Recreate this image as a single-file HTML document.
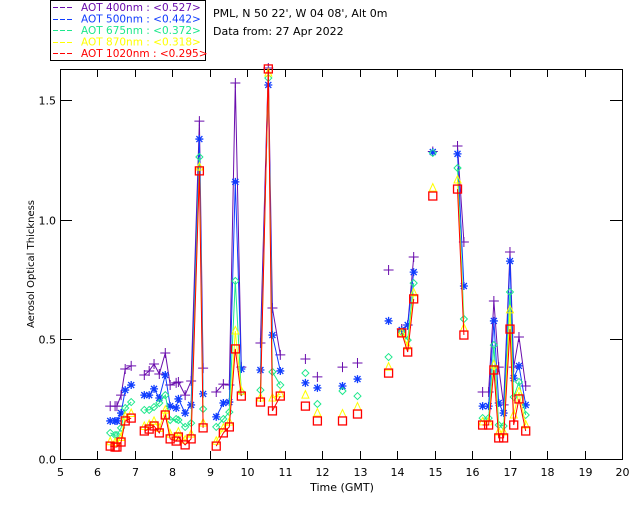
<!DOCTYPE html>
<html><head><meta charset="utf-8">
<style>
html,body{margin:0;padding:0;background:#fff;}
svg{display:block;font-family:"DejaVu Sans","Liberation Sans",sans-serif;}
</style></head>
<body>
<svg id="chart" width="640" height="512" viewBox="0 0 640 512" xmlns="http://www.w3.org/2000/svg">
<rect x="0" y="0" width="640" height="512" fill="#fff"/>
<g id="legend">
<rect x="50.5" y="0.5" width="155" height="60" fill="#fff" stroke="#000"/>
</g>
<text x="213" y="17" font-size="11" fill="#000">PML, N 50 22', W 04 08', Alt 0m</text>
<text x="213" y="35" font-size="11" fill="#000">Data from: 27 Apr 2022</text>
<g id="plot"></g>
</svg>
<script>
const times = [6.34,6.47,6.52,6.63,6.74,6.90,
 7.25,7.38,7.51,7.65,7.81,7.94,8.10,8.16,8.34,8.50,8.72,8.82,
 9.17,9.36,9.52,9.68,9.84,
 10.35,10.56,10.67,10.88,
 11.55,11.87,12.54,12.94,13.77,
 14.12,14.28,14.44,
 14.95,
 15.61,15.78,
 16.28,16.44,16.58,16.71,16.84,17.01,17.11,17.25,17.43];
const segments = [1,1,1,1,1,1, 2,2,2,2,2,2,2,2,2,2,2,2, 3,3,3,3,3, 4,4,4,4, 5,6,7,8,9, 10,10,10, 11, 12,12, 13,13,13,13,13,13,13,13,13];
const aot400 = [.221,.221,.221,.267,.376,.389, .351,.368,.397,.355,.443,.309,.318,.322,.267,.326,1.412,.380, .280,.313,.309,1.571,.384, .485,1.634,.631,.435, .418,.343,.384,.401,.790, .543,.560,.844, 1.285, 1.308,.907, .280,.280,.660,.384,.226,.865,.384,.510,.305];
const aot500 = [.159,.159,.159,.192,.288,.309, .267,.267,.293,.255,.351,.221,.213,.251,.192,.226,1.337,.272, .176,.234,.238,1.158,.376, .372,1.563,.518,.368, .318,.297,.305,.334,.577, .539,.560,.781, 1.283, 1.275,.723, .221,.221,.577,.234,.192,.827,.338,.389,.226];
const aot675 = [.109,.100,.100,.130,.213,.238, .205,.205,.217,.234,.267,.163,.167,.163,.134,.150,1.262,.209, .134,.167,.196,.744,.280, .288,1.592,.364,.309, .359,.230,.284,.263,.426, .531,.497,.735, 1.279, 1.216,.585, .171,.171,.476,.142,.138,.698,.259,.322,.184];
const aot870 = [.072,.068,.068,.090,.178,.190, .136,.144,.157,.128,.204,.104,.095,.112,.079,.104,1.220,.150, .074,.129,.154,.535,.283, .255,1.613,.255,.272, .267,.192,.188,.217,.384, .527,.472,.694, 1.132, 1.166,.547, .155,.155,.393,.113,.113,.623,.184,.280,.142];
const aot1020 = [.054,.050,.050,.071,.159,.171, .117,.125,.138,.109,.184,.084,.075,.092,.059,.084,1.204,.130, .054,.109,.134,.460,.263, .238,1.630,.201,.263, .221,.159,.159,.188,.359, .527,.447,.669, 1.099, 1.128,.518, .142,.142,.372,.088,.088,.543,.142,.251,.117];
const xTicks = [5,6,7,8,9,10,11,12,13,14,15,16,17,18,19,20];
const yTicks = [0,0.5,1.0,1.5];
const seriesNames = ["AOT  400nm : <0.527>","AOT  500nm : <0.442>","AOT  675nm : <0.372>","AOT  870nm : <0.318>","AOT 1020nm : <0.295>"];

const NS="http://www.w3.org/2000/svg";
const X0=60,X1=622,Y0=459,YT=69;
function xs(t){return X0+(t-5)*(X1-X0)/15;}
function ys(v){return Y0-v*239.3;}
function mk(tag,attrs,parent){const e=document.createElementNS(NS,tag);for(const k in attrs)e.setAttribute(k,attrs[k]);parent.appendChild(e);return e;}
const plot=document.getElementById('plot');
const legend=document.getElementById('legend');

const frame=mk('rect',{x:X0+.5,y:YT+.5,width:X1-X0,height:Y0-YT,fill:'none',stroke:'#000'},plot);


xTicks.forEach(t=>{
 const x=Math.round(xs(t))+.5;
 const tb=mk('line',{x1:x,y1:Y0,x2:x,y2:Y0-8,stroke:'#000'},plot);
 
 
 const tt=mk('line',{x1:x,y1:YT,x2:x,y2:YT+8,stroke:'#000'},plot);
 
 
 const lb=mk('text',{x:x,y:Y0+17,'font-size':11,'text-anchor':'middle',fill:'#000'},plot);
 lb.textContent=t;
 
 
});
yTicks.forEach(v=>{
 const y=Math.round(ys(v))+.5;
 const tl=mk('line',{x1:X0,y1:y,x2:X0+12,y2:y,stroke:'#000'},plot);
 
 
 const tr=mk('line',{x1:X1,y1:y,x2:X1-12,y2:y,stroke:'#000'},plot);
 
 
 const lb=mk('text',{x:X0-4,y:y+4,'font-size':11,'text-anchor':'end',fill:'#000'},plot);
 lb.textContent=v.toFixed(1);
 
 
});
const xt=mk('text',{x:342,y:491,'font-size':11,'text-anchor':'middle',fill:'#000'},plot);
xt.textContent='Time (GMT)';


const yt=mk('text',{x:0,y:0,'font-size':10,'text-anchor':'middle',fill:'#000',transform:'translate(34,264) rotate(-90)'},plot);
yt.textContent='Aerosol Optical Thickness';



const series=[aot400,aot500,aot675,aot870,aot1020];
const colors=['#6a0dad','#0f3cff','#1ee88c','#ffff00','#ff0000'];
const names=['aot-400nm','aot-500nm','aot-675nm','aot-870nm','aot-1020nm'];
function marker(k,x,y,c,g){
 if(k===0){mk('path',{d:`M${x-5},${y}H${x+5}M${x},${y-5}V${y+5}`,stroke:c,fill:'none'},g);}
 else if(k===1){mk('path',{d:`M${x-4},${y}H${x+4}M${x},${y-4}V${y+4}M${x-3},${y-3}L${x+3},${y+3}M${x-3},${y+3}L${x+3},${y-3}`,stroke:c,'stroke-width':1.3,fill:'none'},g);}
 else if(k===2){mk('path',{d:`M${x},${y-3.5}L${x+3.5},${y}L${x},${y+3.5}L${x-3.5},${y}Z`,stroke:c,fill:'none'},g);}
 else if(k===3){mk('path',{d:`M${x},${y-4.5}L${x+3.5},${y+3}L${x-3.5},${y+3}Z`,stroke:c,fill:'none'},g);}
 else {mk('rect',{x:x-4,y:y-4,width:8,height:8,stroke:c,'stroke-width':1.3,fill:'none'},g);}
}
series.forEach((vals,k)=>{
 const g=mk('g',{},plot);
 
 
 let d='';
 for(let i=0;i<times.length;i++){
  const x=xs(times[i]).toFixed(1),y=ys(vals[i]).toFixed(1);
  d+=(i>0&&segments[i]===segments[i-1]?'L':'M')+x+','+y;
 }
 const ln=mk('path',{d:d,stroke:colors[k],fill:'none','stroke-width':1},g);
 
 
 for(let i=0;i<times.length;i++) marker(k,xs(times[i]),ys(vals[i]),colors[k],g);
 const ly=11+k*11.5;
 const le=mk('g',{},legend);
 
 
 const dy=Math.round(ly-4)+.5;
 mk('line',{x1:53,y1:dy,x2:74,y2:dy,stroke:colors[k],'stroke-dasharray':'5,2'},le);
 const tx=mk('text',{x:81,y:ly,'font-size':10.5,fill:colors[k],'xml:space':'preserve'},le);
 tx.textContent=seriesNames[k];
});
</script>
</body></html>
